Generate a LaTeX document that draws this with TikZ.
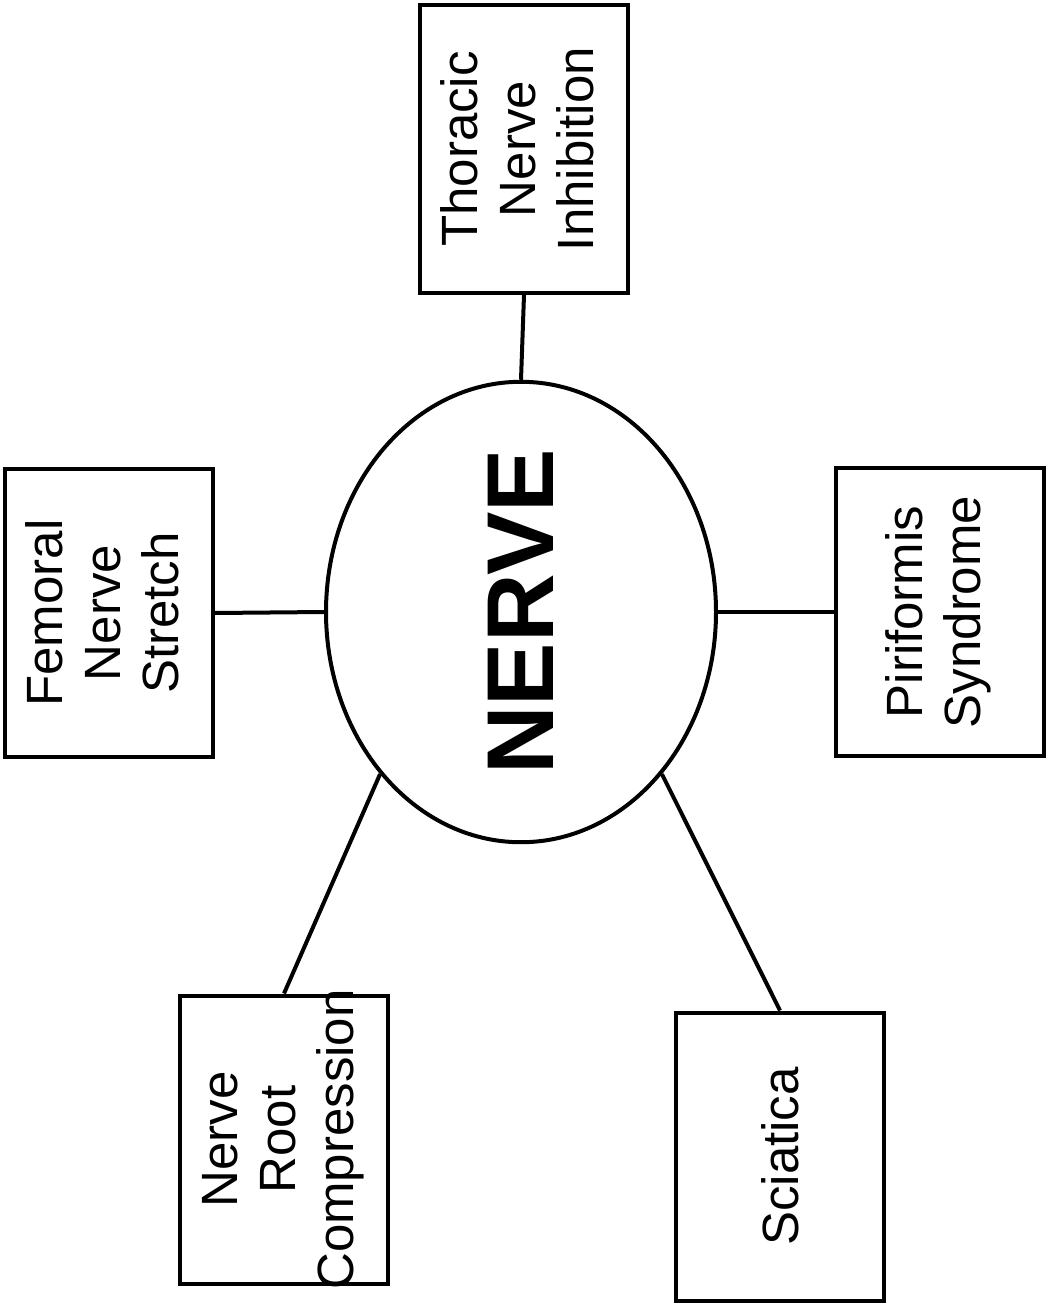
\documentclass[tikz,border=0pt]{standalone}
\usepackage{fontspec}
\setmainfont{Liberation Sans}
\usetikzlibrary{shapes.geometric}

\begin{document}
\begin{tikzpicture}[x=1pt, y=-1pt,
    box/.style={draw, line width=4pt, minimum width=208pt, minimum height=288pt, inner sep=0pt},
    link/.style={line width=4pt}]

    % Page
    \useasboundingbox (0,0) rectangle (1048,1303);

    % Centre
    \node[draw, ellipse, line width=4pt, minimum width=390pt, minimum height=455pt, inner sep=0pt] (nerve) at (521,612)
        {\rotatebox{90}{\fontsize{95}{100}\selectfont\bfseries NERVE}};

    % Boxes
    \node[box] (thoracic) at (524,149)
        {\rotatebox{90}{\fontsize{51}{58}\selectfont\begin{tabular}{@{}c@{}}Thoracic\\Nerve\\Inhibition\end{tabular}}};
    \node[box] (femoral) at (108.5,613)
        {\rotatebox{90}{\fontsize{51}{58}\selectfont\begin{tabular}{@{}c@{}}Femoral\\Nerve\\Stretch\end{tabular}}};
    \node[box] (piriformis) at (939.5,612)
        {\rotatebox{90}{\fontsize{51}{58}\selectfont\begin{tabular}{@{}c@{}}Piriformis\\Syndrome\end{tabular}}};
    \node[box] (root) at (284,1139.5)
        {\rotatebox{90}{\makebox[270pt]{\fontsize{51}{58}\selectfont\begin{tabular}{@{}c@{}}Nerve\\Root\\Compression\end{tabular}}}};
    \node[box] (sciatica) at (780,1156.5)
        {\rotatebox{90}{\fontsize{51}{58}\selectfont Sciatica}};

    % Links
    \draw[link] (thoracic.south) -- (nerve.north);
    \draw[link] (femoral.east) -- (nerve.west);
    \draw[link] (piriformis.west) -- (nerve.east);
    \draw[link] (root.north) -- (nerve.229);
    \draw[link] (sciatica.north) -- (nerve.311);

\end{tikzpicture}
\end{document}
